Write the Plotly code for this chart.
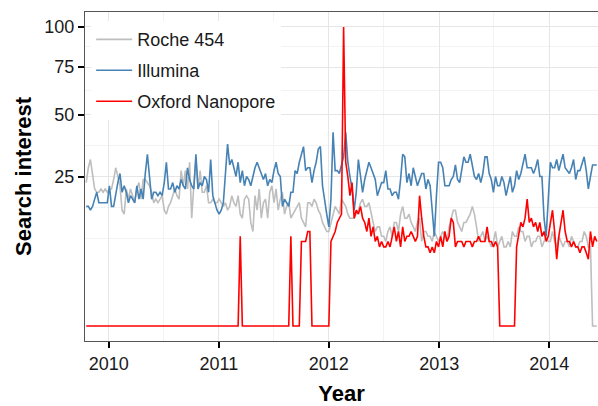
import numpy as np
import pandas as pd
import plotly.graph_objects as go

# Weekly dates (Google Trends style weeks)
start_week = "2009-10-18"
n_weeks = 243
weeks = pd.date_range(start_week, periods=n_weeks, freq="W-SUN")

# Search interest values (0-100)
roche_454 = [
    23, 28, 31, 26, 21, 20, 20, 21, 20, 21,
    20, 21, 21, 24, 28, 25, 22, 15, 14, 21,
    18, 21, 19, 17, 21, 23, 18, 24, 24, 23,
    22, 20, 17, 18, 17, 18, 19, 15, 14, 16,
    17, 19, 21, 19, 18, 27, 22, 27, 21, 30,
    13, 22, 31, 21, 27, 20, 20, 22, 17, 17,
    18, 17, 17, 18, 17, 16, 17, 15, 16, 19,
    17, 16, 19, 14, 13, 18, 19, 18, 12, 10,
    19, 15, 21, 13, 17, 18, 13, 20, 22, 17,
    21, 15, 18, 20, 14, 16, 17, 13, 14, 15,
    16, 17, 13, 12, 11, 17, 17, 16, 18, 17,
    15, 14, 12, 11, 10, 10, 12, 14, 16, 15,
    14, 18, 17, 16, 14, 13, 13, 13, 14, 15,
    17, 18, 16, 16, 17, 14, 12, 10, 11, 11,
    9, 9, 8, 10, 11, 9, 12, 12, 10, 14,
    16, 13, 13, 14, 12, 11, 10, 12, 13, 8,
    10, 10, 9, 9, 8, 10, 9, 8, 9, 10,
    9, 8, 11, 13, 15, 15, 12, 11, 10, 12,
    12, 13, 14, 16, 14, 11, 8, 9, 10, 8,
    9, 8, 7, 8, 10, 7, 8, 9, 7, 7,
    8, 7, 10, 9, 9, 11, 10, 10, 8, 9,
    9, 7, 8, 8, 9, 9, 7, 8, 9, 8,
    8, 10, 8, 7, 9, 8, 7, 8, 8, 7,
    9, 8, 7, 7, 8, 8, 10, 9, 7, 7,
    0, 0, 0,
]

illumina = [
    16, 16, 15, 16, 18, 20, 17, 17, 17, 17,
    17, 22, 16, 16, 20, 23, 26, 20, 22, 20,
    17, 19, 18, 17, 22, 18, 21, 18, 26, 33,
    25, 18, 20, 20, 19, 20, 19, 23, 30, 21,
    21, 23, 20, 22, 21, 24, 22, 21, 28, 24,
    22, 21, 33, 21, 23, 22, 25, 24, 20, 31,
    19, 17, 15, 14, 15, 17, 27, 37, 29, 31,
    28, 25, 30, 23, 27, 22, 25, 24, 22, 25,
    28, 30, 28, 26, 24, 26, 22, 24, 23, 27,
    30, 26, 25, 16, 18, 17, 16, 20, 20, 27,
    26, 30, 33, 36, 27, 28, 28, 23, 27, 30,
    35, 36, 22, 17, 14, 11, 18, 42, 27, 27,
    26, 29, 32, 42, 30, 25, 21, 15, 20, 31,
    26, 20, 24, 27, 30, 28, 26, 24, 19, 21,
    23, 23, 27, 21, 21, 19, 20, 20, 18, 24,
    33, 32, 23, 26, 22, 28, 25, 22, 24, 26,
    26, 21, 24, 22, 15, 9, 19, 30, 30, 28,
    22, 22, 22, 24, 25, 29, 24, 23, 28, 32,
    30, 30, 33, 28, 25, 24, 26, 23, 26, 32,
    32, 26, 24, 20, 25, 22, 22, 25, 23, 19,
    22, 25, 20, 22, 27, 24, 26, 30, 33, 28,
    28, 28, 26, 28, 31, 25, 25, 13, 9, 20,
    30, 28, 28, 31, 27, 30, 33, 28, 27, 26,
    28, 31, 24, 27, 27, 30, 32, 27, 21, 25,
    29, 29, 29,
]

oxford_nanopore = (
    [0] * 73
    + [9]
    + [0] * 23
    + [9]
    + [0] * 4
    + [8, 8, 8, 10, 10]
    + [0] * 9
    + [8, 9, 10, 12, 13, 14, 100, 30, 25, 19,
       23, 13, 15, 14, 16, 13, 12, 10, 13, 9,
       11, 8, 9, 7, 8, 7, 7, 8, 7, 9,
       11, 8, 10, 7, 11, 8, 9, 9, 10, 9,
       8, 9, 19, 13, 9, 7, 7, 6, 7, 6,
       8, 7, 9, 7, 10, 8, 9, 13, 12, 7,
       8, 8, 8, 7, 8, 8, 8, 7, 8, 8,
       9, 8, 8, 8, 11, 8, 8, 7, 8, 7]
    + [0] * 8
    + [7, 9, 12, 11, 13, 18, 12, 13, 11, 12,
       10, 12, 9, 10, 8, 9, 12, 15, 10, 5,
       9, 12, 15, 10, 8, 8, 7, 8, 7, 7,
       6, 7, 7, 6, 5, 10, 7, 9, 8]
)

series_names = ["Roche 454", "Illumina", "Oxford Nanopore"]
series_values = [roche_454, illumina, oxford_nanopore]
series_colors = ["#BEBEBE", "#4682B4", "#FF0000"]

y_tick_values = [25, 50, 75, 100]
y_tick_labels = ["25", "50", "75", "100"]
x_tick_years = [2010, 2011, 2012, 2013, 2014]

fig = go.Figure()
for k, (name, vals, col) in enumerate(zip(series_names, series_values, series_colors)):
    v = np.array(vals[:n_weeks], dtype=float)
    fig.add_trace(go.Scatter(
        x=weeks[:len(v)], y=np.sqrt(v), mode="lines", name=name,
        line=dict(color=col, width=1.6), legendgroup=f"g{k}",
    ))

# minor breaks in sqrt space (midpoints between majors, plus one below)
maj = np.sqrt(np.array(y_tick_values, dtype=float))
step = maj[1] - maj[0]
ext = np.concatenate([[maj[0] - step], maj])
minor_y = list((ext[:-1] + ext[1:]) / 2) + [maj[0] - step]

font_family = "Liberation Sans, Arial, Helvetica, sans-serif"

fig.update_layout(
    width=598, height=406,
    margin=dict(l=85, r=0, t=12, b=65, autoexpand=False),
    paper_bgcolor="white", plot_bgcolor="white",
    font=dict(family=font_family, color="#1a1a1a", size=18),
    showlegend=True,
    legend=dict(
        x=0.012, y=0.972, xanchor="left", yanchor="top",
        bgcolor="white", borderwidth=0,
        font=dict(size=18, color="#1a1a1a", family=font_family),
        tracegroupgap=4.5, itemwidth=36,
    ),
    xaxis=dict(
        range=["2009-10-14", "2014-06-12"],
        tickmode="array",
        tickvals=[pd.Timestamp(f"{y}-01-01") for y in x_tick_years],
        ticktext=[str(y) for y in x_tick_years],
        ticks="outside", ticklen=6, tickwidth=1.6, tickcolor="black",
        showgrid=True, gridcolor="#E6E6E6", gridwidth=1,
        minor=dict(tickmode="array",
                   tickvals=[pd.Timestamp(f"{y}-07-01") for y in range(2009, 2015)],
                   showgrid=True, gridcolor="#F3F3F3", gridwidth=1, ticks=""),
        showline=True, linecolor="#555555", linewidth=1.2, mirror=True,
        zeroline=False, automargin=False,
        tickfont=dict(size=18, color="#1a1a1a"),
        title=dict(text="<b>Year</b>", font=dict(size=22, color="black"), standoff=14),
    ),
    yaxis=dict(
        range=[-0.5, 10.5],
        tickmode="array", tickvals=list(maj), ticktext=y_tick_labels,
        ticks="outside", ticklen=6, tickwidth=1.6, tickcolor="black",
        showgrid=True, gridcolor="#E6E6E6", gridwidth=1,
        minor=dict(tickmode="array", tickvals=minor_y,
                   showgrid=True, gridcolor="#F3F3F3", gridwidth=1, ticks=""),
        showline=True, linecolor="#555555", linewidth=1.2, mirror=True,
        zeroline=False, automargin=False,
        tickfont=dict(size=18, color="#1a1a1a"),
        title=dict(text="<b>Search interest</b>", font=dict(size=22, color="black"), standoff=6),
    ),
)

fig.write_html(
    "out.html",
    config={"displayModeBar": False},
    post_script="document.body.style.margin='0';document.body.style.overflow='hidden';",
)
